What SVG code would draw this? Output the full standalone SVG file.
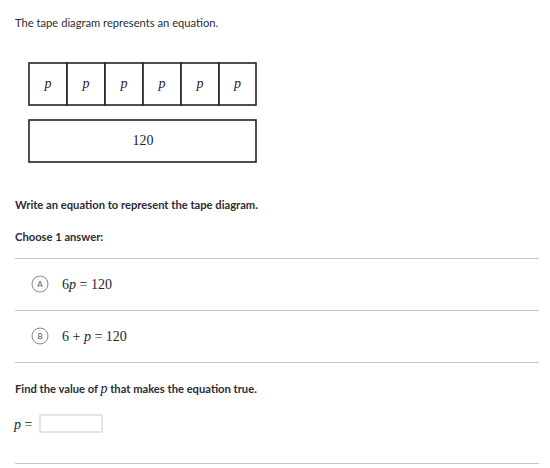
<svg xmlns="http://www.w3.org/2000/svg" width="550" height="468" viewBox="0 0 550 468">
<style>
.t{font-family:Lato,"Liberation Sans",sans-serif;font-size:11.2px;fill:#2b2d33}
.b{font-weight:bold}
.m{font-family:"Liberation Serif","DejaVu Serif",serif;font-size:14px;fill:#21242c}
.i{font-style:italic}
.cell{fill:#fff;stroke:#222;stroke-width:1.6}
.sep{stroke:#c8c8c8;stroke-width:1.2}
.opt{fill:#fff;stroke:#888;stroke-width:1}
.ol{font-family:Lato,"Liberation Sans",sans-serif;font-size:8px;fill:#555}
</style>
<rect width="550" height="468" fill="#fff"/>
<text class="t" x="15" y="27">The tape diagram represents an equation.</text>
<g id="tape-top">
<rect class="cell" x="29" y="63" width="38" height="42"/>
<rect class="cell" x="67" y="63" width="38" height="42"/>
<rect class="cell" x="105" y="63" width="38" height="42"/>
<rect class="cell" x="143" y="63" width="38" height="42"/>
<rect class="cell" x="181" y="63" width="38" height="42"/>
<rect class="cell" x="219" y="63" width="37" height="42"/>
<g class="m i" text-anchor="middle">
<text x="48" y="88">p</text><text x="86" y="88">p</text><text x="124" y="88">p</text>
<text x="162" y="88">p</text><text x="200" y="88">p</text><text x="237.5" y="88">p</text>
</g>
</g>
<g id="tape-bottom">
<rect class="cell" x="29" y="120" width="227" height="42"/>
<text class="m" x="143" y="145" text-anchor="middle">120</text>
</g>
<text class="t b" x="15" y="209">Write an equation to represent the tape diagram.</text>
<text class="t b" x="15" y="241">Choose 1 answer:</text>
<line class="sep" x1="15" y1="258.5" x2="539" y2="258.5"/>
<g id="optA">
<circle class="opt" cx="40" cy="284" r="8"/>
<text class="ol" x="40" y="287" text-anchor="middle">A</text>
<text class="m" x="62" y="288.5"><tspan>6</tspan><tspan class="i">p</tspan><tspan> = 120</tspan></text>
</g>
<line class="sep" x1="15" y1="310.5" x2="539" y2="310.5"/>
<g id="optB">
<circle class="opt" cx="40" cy="336" r="8"/>
<text class="ol" x="40" y="339" text-anchor="middle">B</text>
<text class="m" x="62" y="340.5"><tspan>6 + </tspan><tspan class="i">p</tspan><tspan> = 120</tspan></text>
</g>
<line class="sep" x1="15" y1="362.5" x2="539" y2="362.5"/>
<text class="t b" x="15" y="393">Find the value of <tspan class="m i" font-weight="normal">p</tspan> that makes the equation true.</text>
<text class="m" x="14" y="428.5"><tspan class="i">p</tspan><tspan> =</tspan></text>
<rect x="40" y="415" width="62" height="17" fill="#fff" stroke="#ccc" stroke-width="1"/>
<line class="sep" x1="15" y1="463.5" x2="539" y2="463.5"/>
</svg>
